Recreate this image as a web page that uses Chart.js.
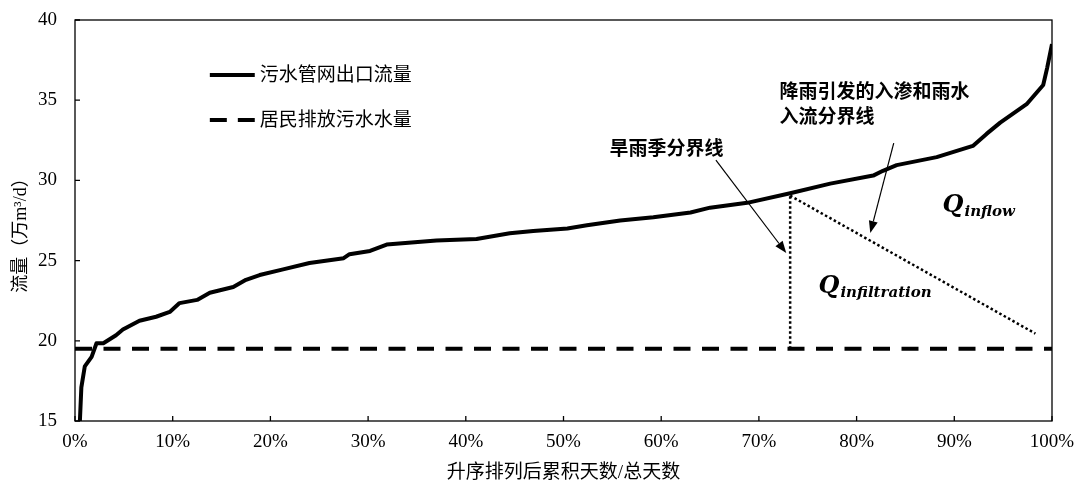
<!DOCTYPE html>
<html>
<head>
<meta charset="utf-8">
<script src="https://cdn.jsdelivr.net/npm/chart.js@4"></script>
<style>
    body { margin: 0; background: #fff; }
    canvas { display: block; }
</style>
</head>
<body>
<canvas id="flowChart" width="1078" height="484"></canvas>
<script>
// Flow duration curve (x = cumulative days / total days, %)
const dayPct = [0.5, 0.65, 1.0, 1.7, 2.2, 2.9, 4.2, 4.9, 6.6, 8.3, 9.7, 10.7, 12.5, 13.8, 16.2, 17.5, 18.9, 21.3, 24.0, 27.5,
    28.1, 30.2, 31.9, 37.0, 41.1, 44.5, 46.9, 50.4, 52.4, 55.8, 59.2, 63.0, 65.0, 68.8, 73.2, 77.3, 81.7, 82.7, 84.1, 88.2,
    91.9, 93.3, 94.7, 97.4, 99.1, 99.5, 100];
const outletFlow = [15.0, 17.1, 18.4, 19.0, 19.85, 19.85, 20.35, 20.7, 21.25, 21.5, 21.8, 22.35, 22.55, 23.0, 23.35, 23.8, 24.1, 24.45, 24.85, 25.15,
    25.4, 25.6, 26.0, 26.25, 26.35, 26.7, 26.85, 27.0, 27.2, 27.5, 27.7, 28.0, 28.3, 28.6, 29.2, 29.8, 30.3, 30.6, 30.95, 31.45,
    32.15, 32.9, 33.6, 34.75, 35.95, 37.0, 38.5];

// Residential sewage (constant)
const residentX = [0, 100];
const residentFlow = [19.5, 19.5];

// Dry/wet season boundary and infiltration/inflow boundary
const seasonX = [73.2, 73.2];
const seasonY = [19.5, 29.05];
const splitX = [73.2, 98.3];
const splitY = [29.05, 20.45];

const seriesNames = ['污水管网出口流量', '居民排放污水水量'];
const xTicks = [0, 10, 20, 30, 40, 50, 60, 70, 80, 90, 100];
const yTicks = [15, 20, 25, 30, 35, 40];

const serif = '"Liberation Serif", "Noto Sans CJK SC", serif';

const toPoints = (xs, ys) => xs.map((x, i) => ({ x, y: ys[i] }));

// Annotation placements in data units
const notes = {
    legendLine: [13.8, 18.4], legendText: 18.9, legendY: [36.57, 33.77],
    seasonText: { x: 54.7, y: 31.9, text: '旱雨季分界线' },
    seasonArrow: { from: [65.6, 31.27], to: [72.8, 25.47] },
    splitText: { x: 72.1, y: [35.45, 33.9], text: ['降雨引发的入渗和雨水', '入流分界线'] },
    splitArrow: { from: [83.8, 32.33], to: [81.4, 26.72] },
    qInflow: { x: 88.8, y: 28.03, sub: 'inflow' },
    qInfil: { x: 76.1, y: 23.0, sub: 'infiltration' }
};

function arrow(ctx, x1, y1, x2, y2) {
    const ang = Math.atan2(y2 - y1, x2 - x1);
    const len = 12, half = 4.5;
    const bx = x2 - Math.cos(ang) * len, by = y2 - Math.sin(ang) * len;
    ctx.beginPath();
    ctx.moveTo(x1, y1);
    ctx.lineTo(bx, by);
    ctx.lineWidth = 1.2;
    ctx.stroke();
    ctx.beginPath();
    ctx.moveTo(x2, y2);
    ctx.lineTo(bx - Math.sin(ang) * half, by + Math.cos(ang) * half);
    ctx.lineTo(bx + Math.sin(ang) * half, by - Math.cos(ang) * half);
    ctx.closePath();
    ctx.fill();
}

const decorPlugin = {
    id: 'decor',
    afterDatasetsDraw(chart) {
        const { ctx, chartArea: a, scales: { x, y } } = chart;
        ctx.save();
        ctx.strokeStyle = '#000';
        ctx.fillStyle = '#000';

        // frame and inner ticks
        ctx.lineWidth = 1.3;
        ctx.strokeRect(a.left, a.top, a.right - a.left, a.bottom - a.top);
        ctx.beginPath();
        xTicks.forEach(v => { const px = x.getPixelForValue(v); ctx.moveTo(px, a.bottom); ctx.lineTo(px, a.bottom - 5); });
        yTicks.forEach(v => { const py = y.getPixelForValue(v); ctx.moveTo(a.left, py); ctx.lineTo(a.left + 5, py); });
        ctx.stroke();

        // y axis title
        ctx.save();
        ctx.translate(21, 231);
        ctx.rotate(-Math.PI / 2);
        ctx.font = '18px ' + serif;
        ctx.textAlign = 'center';
        ctx.textBaseline = 'middle';
        ctx.fillText('流量（万m³/d）', 0, 0);
        ctx.restore();

        // legend
        const lx1 = x.getPixelForValue(notes.legendLine[0]);
        const lx2 = x.getPixelForValue(notes.legendLine[1]);
        const ly = notes.legendY.map(v => y.getPixelForValue(v));
        ctx.lineWidth = 4;
        ctx.beginPath(); ctx.moveTo(lx1, ly[0]); ctx.lineTo(lx2, ly[0]); ctx.stroke();
        ctx.setLineDash([17, 11]);
        ctx.beginPath(); ctx.moveTo(lx1, ly[1]); ctx.lineTo(lx2, ly[1]); ctx.stroke();
        ctx.setLineDash([]);
        ctx.font = '19px ' + serif;
        ctx.textAlign = 'left';
        ctx.textBaseline = 'middle';
        seriesNames.forEach((n, i) => ctx.fillText(n, x.getPixelForValue(notes.legendText), ly[i] + 1));

        // annotation texts
        ctx.font = 'bold 19px ' + serif;
        ctx.fillText(notes.seasonText.text, x.getPixelForValue(notes.seasonText.x), y.getPixelForValue(notes.seasonText.y));
        notes.splitText.text.forEach((t, i) =>
            ctx.fillText(t, x.getPixelForValue(notes.splitText.x), y.getPixelForValue(notes.splitText.y[i])));

        // arrows
        [notes.seasonArrow, notes.splitArrow].forEach(ar => arrow(ctx,
            x.getPixelForValue(ar.from[0]), y.getPixelForValue(ar.from[1]),
            x.getPixelForValue(ar.to[0]), y.getPixelForValue(ar.to[1])));

        // Q labels
        ctx.textBaseline = 'alphabetic';
        [notes.qInflow, notes.qInfil].forEach(q => {
            const px = x.getPixelForValue(q.x), py = y.getPixelForValue(q.y);
            ctx.font = 'italic bold 24px "DejaVu Serif", serif';
            ctx.fillText('Q', px, py);
            const w = ctx.measureText('Q').width;
            ctx.font = 'italic bold 15px "DejaVu Serif", serif';
            ctx.fillText(q.sub, px + w + 1, py + 4);
        });
        ctx.restore();
    }
};

new Chart(document.getElementById('flowChart'), {
    type: 'line',
    data: {
        datasets: [
            {
                label: seriesNames[0],
                data: toPoints(dayPct, outletFlow),
                borderColor: '#000',
                borderWidth: 4,
                borderJoinStyle: 'round',
                pointRadius: 0,
                tension: 0
            },
            {
                label: seriesNames[1],
                data: toPoints(residentX, residentFlow),
                borderColor: '#000',
                borderWidth: 4,
                borderDash: [17, 11.5],
                pointRadius: 0
            },
            {
                label: 'season',
                data: toPoints(seasonX, seasonY),
                borderColor: '#000',
                borderWidth: 2.5,
                borderDash: [2.5, 2.5],
                pointRadius: 0
            },
            {
                label: 'split',
                data: toPoints(splitX, splitY),
                borderColor: '#000',
                borderWidth: 2.5,
                borderDash: [2.5, 2.5],
                pointRadius: 0
            }
        ]
    },
    options: {
        responsive: false,
        animation: false,
        devicePixelRatio: 1,
        layout: { padding: { top: 20, right: 26, left: 0, bottom: 0 } },
        plugins: { legend: { display: false }, tooltip: { enabled: false } },
        scales: {
            x: {
                type: 'linear',
                min: 0,
                max: 100,
                afterBuildTicks: s => { s.ticks = xTicks.map(v => ({ value: v })); },
                afterFit: s => { s.height = 63; s.paddingLeft = 0; s.paddingRight = 0; },
                grid: { display: false, drawTicks: false },
                border: { display: false },
                ticks: {
                    padding: 10,
                    color: '#000',
                    font: { family: serif, size: 19 },
                    maxRotation: 0,
                    callback: v => v + '%'
                },
                title: {
                    display: true,
                    text: '升序排列后累积天数/总天数',
                    color: '#000',
                    font: { family: serif, size: 19 },
                    padding: { top: 0, bottom: 0 }
                }
            },
            y: {
                min: 15,
                max: 40,
                afterBuildTicks: s => { s.ticks = yTicks.map(v => ({ value: v })); },
                afterFit: s => { s.width = 75; s.paddingTop = 0; s.paddingBottom = 0; },
                grid: { display: false, drawTicks: false },
                border: { display: false },
                ticks: {
                    padding: 18,
                    color: '#000',
                    font: { family: serif, size: 19 }
                }
            }
        }
    },
    plugins: [decorPlugin]
});
</script>
</body>
</html>
